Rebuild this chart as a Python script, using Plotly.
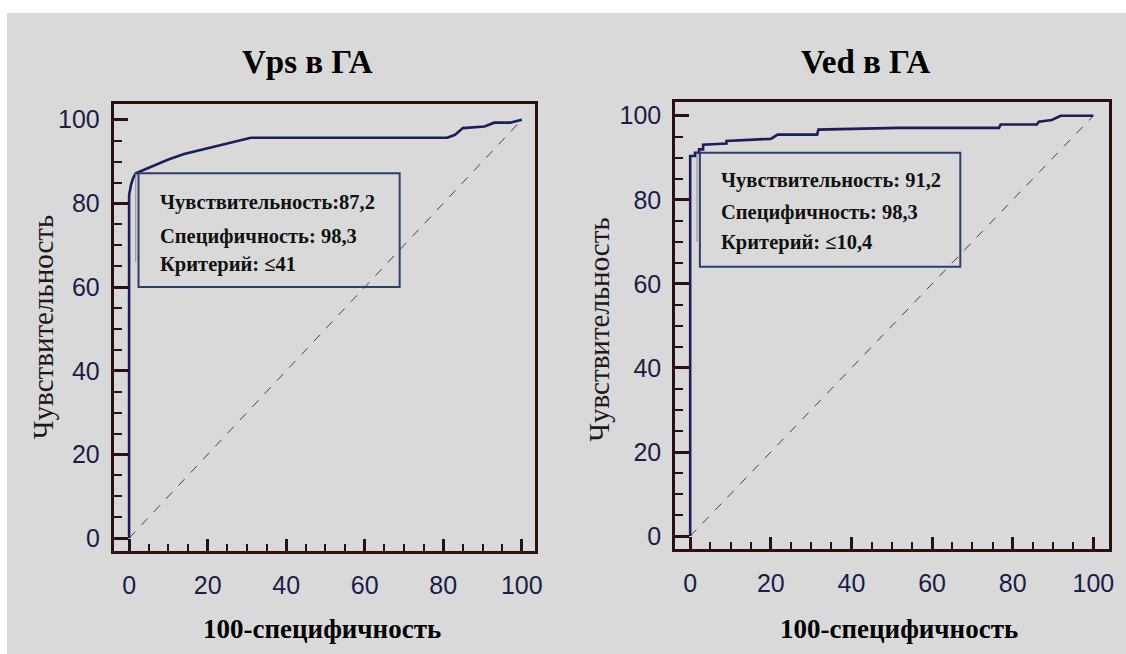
import plotly.graph_objects as go

# ---- data ----
vps_x = [0, 0, 0.5, 1, 1.7, 5, 10, 14, 20, 25, 31, 81, 83, 85, 90.5, 93, 97, 100]
vps_y = [0, 82, 84.5, 86, 87.2, 88.5, 90.5, 91.8, 93.2, 94.3, 95.7, 95.7, 96.4, 98, 98.4, 99.3, 99.3, 100]

ved_x = [0, 0, 1.2, 1.2, 2.2, 2.2, 3.2, 3.2, 9, 9, 20, 21.7, 31.5, 31.8, 51.5, 76.6, 77, 86, 86.5, 89.7, 91.9, 100]
ved_y = [0, 90.4, 90.4, 91.2, 91.2, 92, 92, 93.1, 93.4, 94, 94.5, 95.5, 95.5, 96.7, 97.1, 97.1, 97.9, 97.9, 98.6, 99, 100, 100]

diag = [0, 100]
tick_vals = [0, 20, 40, 60, 80, 100]

titles = ["Vps в ГА", "Ved в ГА"]
x_title = "100-специфичность"
y_title = "Чувствительность"

box_left = ["Чувствительность:87,2", "Специфичность: 98,3", "Критерий: ≤41"]
box_right = ["Чувствительность: 91,2", "Специфичность: 98,3", "Критерий: ≤10,4"]
crit_left = (1.7, 87.2)
crit_right = (1.7, 91.2)

W, H = 1126, 654
BG = "#d9d9d9"
CURVE = "#1b1d5c"
FRAME = "#2a1010"
LABEL = "#1c1c48"

def px(x):
    return x / W

def py(y):
    return 1 - y / H

fig = go.Figure()

for xs, ys, xa, ya in [(vps_x, vps_y, "x", "y"), (ved_x, ved_y, "x2", "y2")]:
    fig.add_trace(go.Scatter(x=diag, y=diag, mode="lines", xaxis=xa, yaxis=ya,
                             line=dict(color="#444444", width=1, dash="dash"),
                             showlegend=False, hoverinfo="skip"))
    fig.add_trace(go.Scatter(x=xs, y=ys, mode="lines", xaxis=xa, yaxis=ya,
                             line=dict(color=CURVE, width=2.6),
                             showlegend=False))

def xaxis(domain, rng):
    return dict(domain=domain, range=rng, tickvals=tick_vals, ticks="inside",
                ticklen=12, tickwidth=2.5, tickcolor=FRAME,
                minor=dict(dtick=5, ticks="inside", ticklen=7, tickwidth=2, tickcolor=FRAME),
                showline=True, linecolor=FRAME, linewidth=3, mirror=True,
                showgrid=False, zeroline=False, ticklabelstandoff=10,
                tickfont=dict(family="Liberation Sans", size=25, color=LABEL))

def yaxis(domain, rng):
    return dict(domain=domain, range=rng, tickvals=tick_vals, ticks="inside",
                ticklen=14, tickwidth=2.5, tickcolor=FRAME,
                minor=dict(dtick=5, ticks="inside", ticklen=8, tickwidth=2, tickcolor=FRAME),
                showline=True, linecolor=FRAME, linewidth=3, mirror=True,
                showgrid=False, zeroline=False, ticklabelstandoff=6,
                tickfont=dict(family="Liberation Sans", size=25, color=LABEL))

fig.update_layout(
    width=W, height=H,
    margin=dict(l=0, r=0, t=0, b=0),
    paper_bgcolor=BG, plot_bgcolor=BG,
    xaxis=xaxis([px(114.5), px(538.5)], [-3.9, 103.4]),
    yaxis=yaxis([py(552), py(104)], [-3.1, 103.8]),
    xaxis2=dict(xaxis([px(679.5), px(1116)], [-3.7, 103.9]), anchor="y2"),
    yaxis2=dict(yaxis([py(550), py(102)], [-3.1, 103.3]), anchor="x2"),
)
fig.layout.xaxis.anchor = "y"
fig.layout.yaxis.anchor = "x"

shapes = []
annotations = []

# white strips at top and left
shapes.append(dict(type="rect", xref="paper", yref="paper", x0=-0.01, x1=1.01, y0=py(13), y1=1.01,
                   fillcolor="white", line=dict(width=0), layer="below"))
shapes.append(dict(type="rect", xref="paper", yref="paper", x0=-0.01, x1=px(7), y0=-0.01, y1=1.01,
                   fillcolor="white", line=dict(width=0), layer="below"))

# titles
for txt, cx in [(titles[0], 309), (titles[1], 871)]:
    annotations.append(dict(text="<b>" + txt + "</b>", x=px(cx), y=py(62), xref="paper", yref="paper",
                            showarrow=False, xanchor="center", yanchor="middle",
                            font=dict(family="Liberation Serif", size=33, color="black")))
# x titles
for cx in [324, 905]:
    annotations.append(dict(text="<b>" + x_title + "</b>", x=px(cx), y=py(630), xref="paper", yref="paper",
                            showarrow=False, xanchor="center", yanchor="middle",
                            font=dict(family="Liberation Serif", size=27, color="black")))
# y titles
for cx, cy in [(44, 328), (603, 330)]:
    annotations.append(dict(text=y_title, x=px(cx), y=py(cy), xref="paper", yref="paper",
                            showarrow=False, xanchor="center", yanchor="middle", textangle=-90,
                            font=dict(family="Liberation Serif", size=29, color="#1a1a1a")))

# info boxes
boxes = [
    ("x", "y", crit_left, 68.9, 60.0, box_left, 7.3, [80.2, 72.1, 65.4], 66.0),
    ("x2", "y2", crit_right, 67.0, 64.1, box_right, 7.1, [84.6, 77.0, 69.8], 70.0),
]
for xa, ya, crit, x1, y0, lines, tx, tys, gl in boxes:
    shapes.append(dict(type="line", xref=xa, yref=ya, x0=crit[0], x1=crit[0], y0=crit[1], y1=gl,
                       line=dict(color="#8a8a8a", width=1)))
    shapes.append(dict(type="rect", xref=xa, yref=ya, x0=crit[0] + 0.7, x1=x1, y0=y0, y1=crit[1],
                       line=dict(color="#2c3e6e", width=2), fillcolor="rgba(0,0,0,0)"))
    for t, ty in zip(lines, tys):
        annotations.append(dict(text="<b>" + t + "</b>", x=tx, y=ty, xref=xa, yref=ya,
                                showarrow=False, xanchor="left", yanchor="middle",
                                font=dict(family="Liberation Serif", size=20.5, color="#111111")))

fig.update_layout(shapes=shapes, annotations=annotations)

fig.write_html("out.html", config={"displayModeBar": False},
               post_script="document.body.style.margin='0px';")
